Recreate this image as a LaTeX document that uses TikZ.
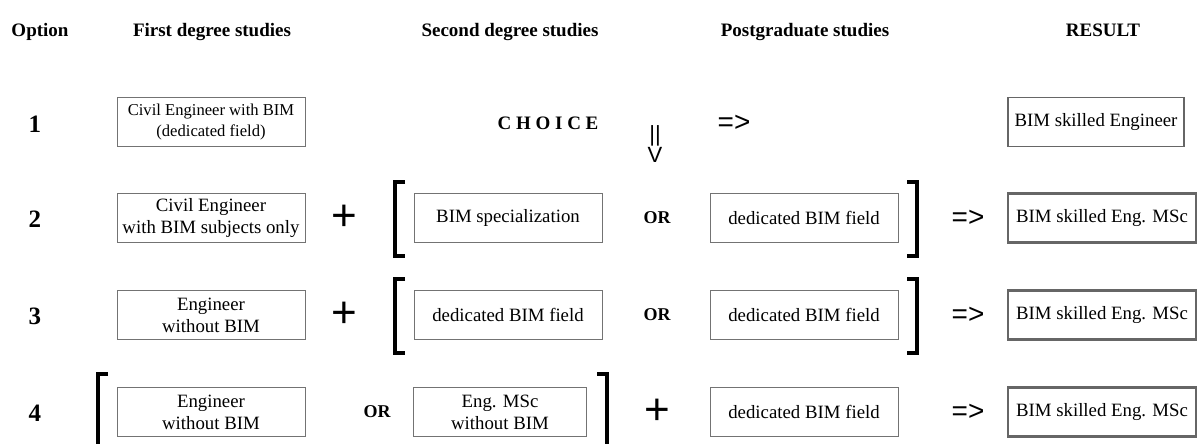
\documentclass[tikz,border=0pt]{standalone}
\usepackage{fontspec}
\setmainfont{Liberation Serif}
\newfontfamily\arialfont{Liberation Sans}
\begin{document}
\begin{tikzpicture}[x=0.5pt, y=-0.5pt,
  every node/.style = {inner sep=0pt, align=center,
    font=\fontsize{9.4}{11}\selectfont},
  box/.style = {draw=black!55, line width=0.5pt,
    minimum width=94pt, minimum height=24.5pt},
  res/.style = {box, draw=black!60, line width=1.1pt},
  head/.style = {anchor=base, font=\fontsize{9.5}{11}\selectfont\bfseries},
  num/.style = {font=\fontsize{12.5}{14}\selectfont\bfseries},
  orword/.style = {font=\fontsize{9}{11}\selectfont\bfseries},
  plus/.style = {font=\arialfont\fontsize{22}{22}\selectfont},
  impl/.style = {font=\arialfont\fontsize{14}{14}\selectfont},
  brk/.style = {line width=1.8pt, line join=miter}]
  \useasboundingbox (0,0) rectangle (1200,444);
  \clip (0,0) rectangle (1200,444);
  \node[head] (hopt) at (40,37) {Option};
  \node[head] (hfirst) at (212,37) {First degree studies};
  \node[head] (hsecond) at (510,37) {Second degree studies};
  \node[head] (hpost) at (805,37) {Postgraduate studies};
  \node[head] (hres) at (1103,37) {RESULT};
  \foreach \n/\y in {1/124, 2/219, 3/316, 4/413}
    \node[num] (num\n) at (35,\y) {\n};
  \node[box, font=\fontsize{8.3}{10.6}\selectfont] (civ1) at (211,122) {Civil Engineer with BIM\\(dedicated field)};
  \node[head, anchor=center] (choice) at (548,123) {C H O I C E};
  \node[impl, font=\arialfont\fontsize{11}{11}\selectfont] (bars) at (655,136) {||};
  \node[impl, font=\arialfont\fontsize{11}{11}\selectfont] (vee) at (655,155) {V};
  \node[impl] (eq1) at (734,123) {=>};
  \node[res, line width=0.8pt, minimum width=88pt] (res1) at (1096,122) {BIM skilled Engineer};
  \node[box] (civ2) at (211,218) {Civil Engineer\\with BIM subjects only};
  \node[plus] (plus2) at (344,218) {+};
  \node[box] (spec2) at (508,218) {BIM specialization};
  \node[orword] (or2) at (657,218) {OR};
  \node[box] (ded2) at (804,218) {dedicated BIM field};
  \node[impl] (eq2) at (968,218) {=>};
  \node[res] (res2) at (1102,218) {BIM skilled Eng. MSc};
  \draw[brk] (405,182) -| (395,256) -- (405,256);
  \draw[brk] (907,182) -| (917,256) -- (907,256);
  \node[box] (eng3) at (211,315) {Engineer\\without BIM};
  \node[plus] (plus3) at (344,315) {+};
  \node[box] (dedA3) at (508,315) {dedicated BIM field};
  \node[orword] (or3) at (657,315) {OR};
  \node[box] (dedB3) at (804,315) {dedicated BIM field};
  \node[impl] (eq3) at (968,315) {=>};
  \node[res] (res3) at (1102,315) {BIM skilled Eng. MSc};
  \draw[brk] (405,279) -| (395,353) -- (405,353);
  \draw[brk] (907,279) -| (917,353) -- (907,353);
  \node[box] (eng4) at (211,412) {Engineer\\without BIM};
  \node[orword] (or4) at (377,412) {OR};
  \node[box, minimum width=86.5pt] (msc4) at (500,412) {Eng. MSc\\without BIM};
  \node[plus] (plus4) at (657,412) {+};
  \node[box] (ded4) at (804,412) {dedicated BIM field};
  \node[impl] (eq4) at (968,412) {=>};
  \node[res] (res4) at (1102,412) {BIM skilled Eng. MSc};
  \draw[brk] (108,374) -| (98,452) -- (108,452);
  \draw[brk] (597,374) -| (607,452) -- (597,452);
\end{tikzpicture}
\end{document}
